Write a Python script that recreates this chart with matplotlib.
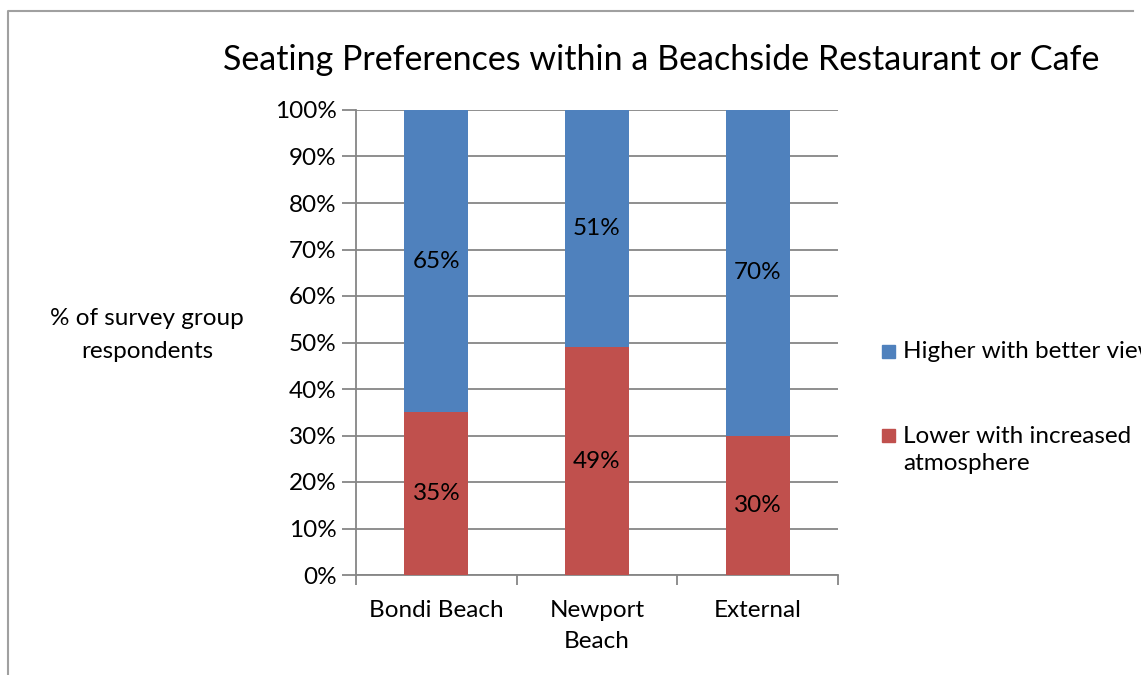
import numpy as np
import matplotlib.pyplot as plt
from matplotlib.patches import Rectangle
from matplotlib.lines import Line2D
from matplotlib.ticker import PercentFormatter, FixedLocator

# survey results (percent of respondents per location)
locations = ["Bondi Beach", "Newport\nBeach", "External"]
lower = [35, 49, 30]
higher = [65, 51, 70]
series_names = ["Higher with better views", "Lower with increased\natmosphere"]
series_colors = ["#4F81BD", "#C0504D"]

plt.rcParams['font.family'] = ['Lato', 'DejaVu Sans']
grey = "#868686"
fs = 17.5

fig = plt.figure(figsize=(11.41, 6.75), dpi=100)
ax = fig.add_axes([356/1141, 1-575/675, (838-356)/1141, (575-110)/675])

x = np.arange(len(locations)) + 0.5
ax.bar(x, lower, width=0.4, color=series_colors[1], zorder=3)
ax.bar(x, higher, width=0.4, bottom=lower, color=series_colors[0], zorder=3)

# value labels in the middle of each segment
for xi, lo, hi in zip(x, lower, higher):
    ax.text(xi, lo/2, f"{lo}%", ha='center', va='center', fontsize=fs, color='black', zorder=4)
    ax.text(xi, lo + hi/2, f"{hi}%", ha='center', va='center', fontsize=fs, color='black', zorder=4)

ax.set_xlim(0, 3)
ax.set_ylim(0, 100)
ax.set_yticks(np.arange(0, 101, 10))
ax.yaxis.set_major_formatter(PercentFormatter(decimals=0))
ax.grid(axis='y', color=grey, linewidth=1.3, zorder=0)
ax.tick_params(axis='y', length=10, width=1.3, color=grey, labelsize=fs, pad=4)

# categories sit between the boundary ticks
ax.xaxis.set_major_locator(FixedLocator(x))
ax.set_xticklabels(locations, fontsize=fs, linespacing=1.6, va='top')
ax.xaxis.set_minor_locator(FixedLocator([0, 1, 2, 3]))
ax.tick_params(axis='x', which='major', length=0, pad=18)
ax.tick_params(axis='x', which='minor', length=7, width=1.3, color=grey)

for s in ['top', 'right']:
    ax.spines[s].set_visible(False)
for s in ['left', 'bottom']:
    ax.spines[s].set_color(grey)
    ax.spines[s].set_linewidth(1.3)

fig.text(661/1141, 1-60/675, "Seating Preferences within a Beachside Restaurant or Cafe",
         ha='center', va='center', fontsize=24.5)
fig.text(147/1141, 1-335/675, "% of survey group\nrespondents", ha='center', va='center',
         fontsize=fs, linespacing=1.65)

# legend drawn by hand so the long label runs off the edge
legend_y = [352, 450]
for name, col, ly in zip(series_names, series_colors, legend_y):
    sq_y = ly if '\n' not in name else ly - 14
    fig.patches.append(Rectangle((882/1141, 1-(sq_y+6)/675), 13/1141, 13/675,
                                 transform=fig.transFigure, color=col))
    fig.text(903/1141, 1-ly/675, name, ha='left', va='center',
             fontsize=fs, linespacing=1.3)

# outer chart border
fig.lines.append(Line2D([8/1141, 8/1141, 1133/1141], [0, 1-11/675, 1-11/675],
                        transform=fig.transFigure, color="#A0A0A0", linewidth=1.5))

fig.savefig("out.png", dpi=100)
